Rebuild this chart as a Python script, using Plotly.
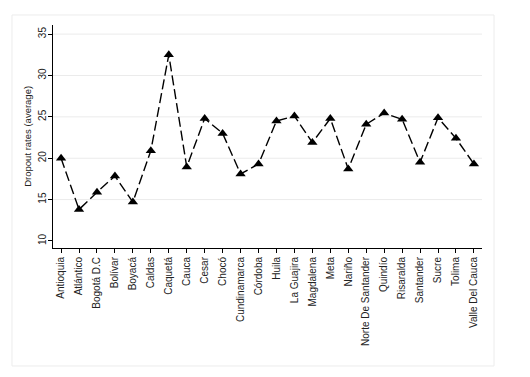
import plotly.graph_objects as go

departments = ["Antioquia", "Atlántico", "Bogotá D.C", "Bolívar", "Boyacá", "Caldas",
               "Caquetá", "Cauca", "Cesar", "Chocó", "Cundinamarca", "Córdoba",
               "Huila", "La Guajira", "Magdalena", "Meta", "Nariño", "Norte De Santander",
               "Quindío", "Risaralda", "Santander", "Sucre", "Tolima", "Valle Del Cauca"]
dropout = [20.0, 13.8, 15.9, 17.85, 14.7, 20.9,
           32.5, 18.95, 24.8, 23.0, 18.1, 19.3,
           24.5, 25.1, 21.9, 24.8, 18.7, 24.1,
           25.45, 24.7, 19.5, 24.9, 22.4, 19.3]
y_ticks = [10, 15, 20, 25, 30, 35]
grid_values = [15, 20, 25, 30, 35]
y_title = "Dropout rates (average)"

fig = go.Figure()
fig.add_trace(go.Scatter(
    x=list(range(len(departments))), y=dropout, mode="lines+markers",
    line=dict(color="black", width=1.4, dash="10px,4px"),
    marker=dict(symbol="triangle-up", size=9, color="black"),
    showlegend=False, cliponaxis=False,
))
for g in grid_values:
    fig.add_hline(y=g, line=dict(color="#ebebeb", width=1), layer="below")

# outer frame
fig.add_shape(type="rect", xref="paper", yref="paper",
              x0=-0.0956, x1=1.028, y0=-0.529, y1=1.045,
              line=dict(color="#ececec", width=1), layer="below")

fig.add_annotation(text=y_title, xref="paper", yref="paper", x=-0.06, y=0.5,
                   textangle=-90, showarrow=False, xanchor="center", yanchor="middle",
                   font=dict(size=9.5, color="#222"))

fig.update_layout(
    width=530, height=377,
    margin=dict(l=45, r=56, t=17, b=137, autoexpand=False),
    paper_bgcolor="white", plot_bgcolor="white",
    font=dict(family="Liberation Sans, Arial", size=9, color="#222"),
)
fig.update_xaxes(
    tickmode="array", tickvals=list(range(len(departments))), ticktext=departments,
    tickangle=-90, range=[-0.45, 23.45], showgrid=False, zeroline=False,
    showline=True, linecolor="black", linewidth=1, automargin=False,
    ticks="outside", ticklen=4, tickcolor="black", tickfont=dict(size=10),
)
fig.update_yaxes(
    tickmode="array", tickvals=y_ticks, range=[9.15, 36.1],
    tickangle=-90, showgrid=False, zeroline=False, automargin=False,
    showline=True, linecolor="black", linewidth=1,
    ticks="outside", ticklen=4, tickcolor="black", tickfont=dict(size=10),
    ticklabelstandoff=-2,
)
fig.write_html("out.html")
